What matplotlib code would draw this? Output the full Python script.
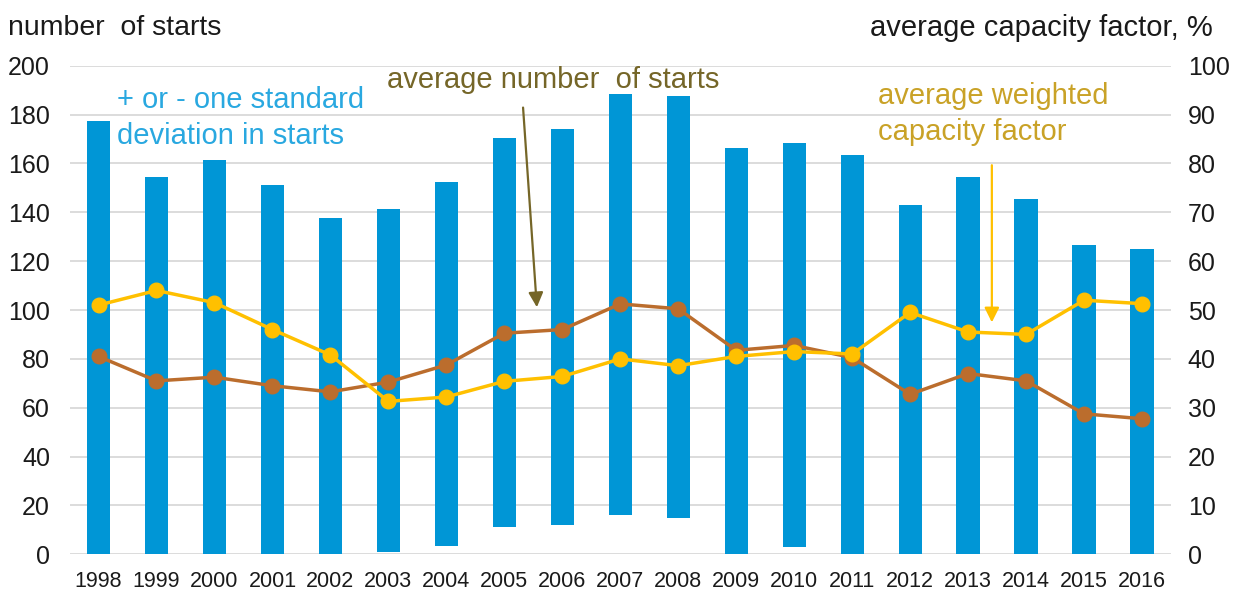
import matplotlib.pyplot as plt
import numpy as np

plt.rcParams['font.family'] = ['Liberation Sans', 'DejaVu Sans']

# Jahre und Werte
years = [str(y) for y in range(1998, 2017)]
band_low = [0, 0, 0, 0, 0, 1, 3.5, 11, 12, 16, 15, 0, 3, 0, 0, 0, 0, 0, 0]
band_high = [177.5, 154.5, 161.5, 151, 137.5, 141.5, 152.5, 170.5, 174, 188.5, 187.5,
             166.5, 168.5, 163.5, 143, 154.5, 145.5, 126.5, 125]
avg_starts = [81, 71, 72.5, 69, 66.5, 70.5, 77.5, 90.5, 92, 102.5, 100.5,
              83.5, 85.5, 80.5, 65.5, 74, 71, 57.5, 55.5]
cap_factor = [51, 54, 51.5, 46, 40.8, 31.3, 32.2, 35.4, 36.4, 40, 38.6,
              40.5, 41.5, 41, 49.5, 45.5, 45, 52, 51.3]

blue = '#0096d6'
brown = '#bb6d2d'
gold = '#ffc000'
olive = '#756628'

x = np.arange(len(years))

fig = plt.figure(figsize=(12.33, 5.94), dpi=100)
ax = fig.add_axes([0.0564, 0.0668, 0.8933, 0.8226])
ax2 = ax.twinx()

# Balken: Bereich +/- eine Standardabweichung
heights = np.array(band_high) - np.array(band_low)
ax.bar(x, heights, bottom=band_low, width=0.4, color=blue, zorder=2)

ax.plot(x, avg_starts, color=brown, lw=2.5, marker='o', ms=10.5, zorder=3)
ax2.plot(x, cap_factor, color=gold, lw=2.5, marker='o', ms=10.5, zorder=4)

ax.set_xlim(-0.5, len(years) - 0.5)
ax.set_ylim(0, 200)
ax2.set_ylim(0, 100)
ax.set_yticks(np.arange(0, 201, 20))
ax2.set_yticks(np.arange(0, 101, 10))
ax.set_xticks(x)
ax.set_xticklabels(years)

ax.grid(axis='y', color='#d9d9d9', lw=1.3, zorder=0)
ax.set_axisbelow(True)
for a in (ax, ax2):
    for s in a.spines.values():
        s.set_visible(False)
    a.tick_params(length=0, labelsize=18, colors='#1a1a1a')
ax.tick_params(axis='y', pad=14)
ax.tick_params(axis='x', pad=12, labelsize=15.5)
ax2.tick_params(axis='y', pad=12)

# Achsentitel oben
fig.text(8 / 1233, 1 - 28 / 594, 'number  of starts', fontsize=20.5,
         ha='left', va='center', color='#1a1a1a')
fig.text(1213 / 1233, 1 - 28 / 594, 'average capacity factor, %', fontsize=21,
         ha='right', va='center', color='#1a1a1a')

# Beschriftungen im Diagramm
fig.text(117 / 1233, 1 - 118 / 594, '+ or - one standard\ndeviation in starts',
         fontsize=21, ha='left', va='center', color='#29a8e0', linespacing=1.33)
fig.text(387 / 1233, 1 - 80 / 594, 'average number  of starts', fontsize=21,
         ha='left', va='center', color=olive)
fig.text(878 / 1233, 1 - 114 / 594, 'average weighted\ncapacity factor',
         fontsize=21, ha='left', va='center', color='#c9a227', linespacing=1.33)

# Pfeile
ax.annotate('', xy=(7.565, 100), xytext=(7.32, 184),
            arrowprops=dict(arrowstyle='-|>', color=olive, lw=1.6, mutation_scale=22),
            zorder=6)
ax2.annotate('', xy=(15.41, 46.9), xytext=(15.41, 80.2),
             arrowprops=dict(arrowstyle='-|>', color=gold, lw=1.6, mutation_scale=22),
             zorder=6)

plt.savefig('out.png', dpi=100)
